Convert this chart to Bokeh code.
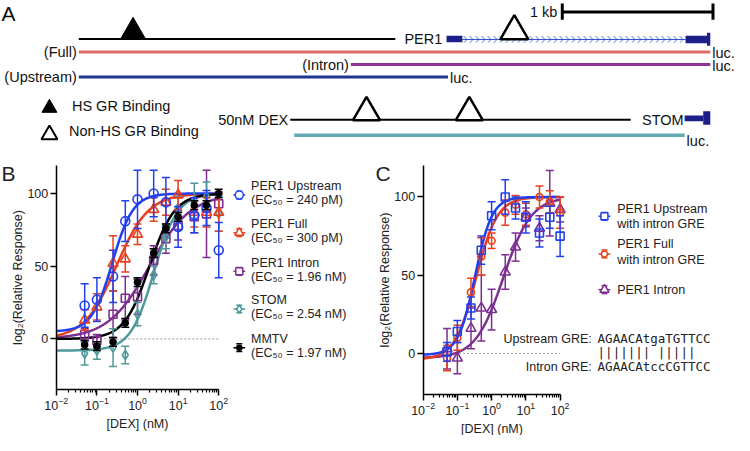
import numpy as np
from bokeh.plotting import figure
from bokeh.models import Range1d, LinearScale, FixedTicker, LogTickFormatter
from bokeh.layouts import column, row
from bokeh.embed import file_html
from bokeh.resources import INLINE
from bokeh.core.properties import value

FONT = "Liberation Sans"
MONO = "DejaVu Sans Mono"

# ---------------- Panel A: map (positions in kb from start of PER1 upstream region)
per1_upstream_kb = [0.0, 2.10]
per1_exon1_kb = [2.44, 2.545]
per1_intron_kb = [2.545, 4.026]
per1_exon2_kb = [4.026, 4.168]
per1_exon2_end_kb = [4.168, 4.19]
hs_sites_kb = [0.36]
per1_nonhs_sites_kb = [2.89]
construct_names = ["(Full)", "(Intron)", "(Upstream)"]
construct_start_kb = [0.0, 1.805, 0.0]
construct_end_kb = [4.19, 4.19, 2.45]
construct_colors = ["#e06a6a", "#8e3496", "#1f3590"]
stom_region_kb = [1.403, 3.662]
stom_nonhs_sites_kb = [1.909, 2.591]
stom_exon_kb = [4.02, 4.143]
stom_exon_end_kb = [4.143, 4.19]
stom_construct_kb = [1.429, 4.02]
scale_bar_kb = [3.208, 4.208]

# ---------------- Panel B data
dex_nM = [0.05, 0.1, 0.25, 0.5, 1, 2.5, 5, 10, 25, 50, 100]
b_names = ["PER1 Upstream", "PER1 Full", "PER1 Intron", "STOM", "MMTV"]
b_ec50_text = ["240 pM", "300 pM", "1.96 nM", "2.54 nM", "1.97 nM"]
b_ec50_nM = [0.24, 0.30, 1.96, 2.54, 1.97]
b_bottom = [5, 0, 0, -8, 0]
b_top = [100, 100, 100, 100, 100]
b_hill = [1.7, 1.1, 0.85, 1.5, 1.4]
b_upstream = [23, 27, 43, 81, 96, 100, 94, 77, 85, 90, 61]
b_upstream_err = [15, 15, 18, 14, 20, 16, 17, 14, 12, 12, 19]
b_full = [13, 22, 52, 55, 72, 89, 94, 99, 87, 87, 87]
b_full_err = [7, 9, 19, 9, 7, 8, 9, 10, 10, 10, 13]
b_intron = [3, -1, 17, 28, 29, 54, 69, 78, 84, 86, 93]
b_intron_err = [4, 4, 16, 15, 12, 10, 10, 10, 11, 30, 8]
b_stom = [-10, -8, -6, -11, 17, 44, 70, 90, 95, 98, 86]
b_stom_err = [8, 6, 13, 6, 8, 6, 8, 8, 12, 10, 12]
b_mmtv = [-4, -5, -2, 11, 39, 59, 76, 84, 92, 92, 100]
b_mmtv_err = [3, 3, 3, 3, 3, 3, 3, 3, 3, 3, 3]
b_colors = ["#2040f0", "#e8401f", "#7d2f91", "#4d9a9a", "#000000"]
b_markers = ["circle", "triangle", "square", "diamond", "circle"]

# ---------------- Panel C data
c_names = [["PER1 Upstream", "with intron GRE"], ["PER1 Full", "with intron GRE"], ["PER1 Intron"]]
c_ec50_nM = [0.33, 0.35, 2.2]
c_bottom = [-1, -4, -3]
c_top = [100, 100, 100]
c_hill = [1.75, 1.4, 1.07]
c_upstream = [1, 14, 29, 66, 88, 100, 93, 87, 77, 87, 75]
c_upstream_err = [6, 7, 7, 9, 9, 11, 7, 10, 9, 7, 13]
c_full = [-3, 10, 39, 62, 72, 90, 95, 89, 100, 97, 90]
c_full_err = [8, 8, 9, 12, 5, 8, 6, 7, 7, 7, 10]
c_intron = [3, -3, 16, 29, 28, 52, 68, 87, 80, 96, 92]
c_intron_err = [13, 10, 13, 21, 13, 11, 9, 6, 8, 21, 8]
c_colors = ["#2040f0", "#e8401f", "#7d2f91"]
c_markers = ["square", "circle", "triangle"]
gre_labels = ["Upstream GRE:", "Intron GRE:"]
gre_seqs = ["AGAACAtgaTGTTCC", "AGAACAtccCGTTCC"]

# ---------------- layout constants
W = 734
SX = W / 750.0
H_A = 154
H_BC = 281
X0, PX_PER_KB = 80.0, 154.0


def gx(kbs):
    return [X0 + PX_PER_KB * k for k in kbs]


# ================= Panel A
pa = figure(width=W, height=H_A, x_range=Range1d(0, 750), y_range=Range1d(160, 0),
            output_backend="svg", toolbar_location=None, min_border=0,
            x_axis_location=None, y_axis_location=None)
pa.grid.visible = False
pa.outline_line_color = None


def atext(x, y, t, align="left", size="14.5px", font=FONT):
    pa.text(x=[x], y=[y], text=[t], text_align=align, text_baseline="middle",
            text_font=value(font), text_font_size=size, text_color="#111")


atext(1, 14, "A", size="21px")
# PER1 locus
pa.line(gx(per1_upstream_kb), [40, 40], line_color="black", line_width=2)
atext(gx(per1_upstream_kb)[1] + 48, 40, "PER1", align="right")
pa.quad(left=gx(per1_intron_kb)[:1], right=gx(per1_intron_kb)[1:], top=[37], bottom=[44],
        fill_alpha=0, line_color=None, hatch_pattern=">", hatch_color="#8fa4e4",
        hatch_scale=6, hatch_weight=1.1)
pa.line(gx(per1_intron_kb), [40.5, 40.5], line_color="#3050c8", line_width=1)
pa.quad(left=gx(per1_exon1_kb)[:1], right=gx(per1_exon1_kb)[1:], top=[36.7], bottom=[43.5],
        fill_color="#1c1f8a", line_color=None)
pa.quad(left=gx(per1_exon2_kb)[:1], right=gx(per1_exon2_kb)[1:], top=[36.5], bottom=[44.5],
        fill_color="#1c1f8a", line_color=None)
pa.quad(left=gx(per1_exon2_end_kb)[:1], right=gx(per1_exon2_end_kb)[1:], top=[33.5], bottom=[47],
        fill_color="#1c1f8a", line_color=None)
pa.scatter(gx(hs_sites_kb), [40 - 0.2887 * 26], marker="triangle", size=25,
           fill_color="black", line_color="black")
pa.scatter(gx(per1_nonhs_sites_kb), [40 - 0.2887 * 28], marker="triangle", size=28,
           fill_color="white", line_color="black", line_width=2.5)
# scale bar
sb = gx(scale_bar_kb)
pa.line(sb, [12, 12], line_color="black", line_width=3)
pa.segment(x0=sb, y0=[3, 3], x1=sb, y1=[20, 20], line_color="black", line_width=3)
atext(sb[0] - 5, 12, "1 kb", align="right")
# constructs
rows = [53.5, 66.5, 79.5]
pa.segment(x0=gx(construct_start_kb), y0=rows, x1=gx(construct_end_kb), y1=rows,
           line_color=construct_colors, line_width=3)
for name, s, e, r in zip(construct_names, gx(construct_start_kb), gx(construct_end_kb), rows):
    atext(s - 2, r, name, align="right")
    atext(e + 2, r + 1.5, "luc.")
# legend
pa.scatter([50], [116 - 0.2887 * 15], marker="triangle", size=15, fill_color="black", line_color="black")
atext(73, 110, "HS GR Binding")
pa.scatter([50], [144 - 0.2887 * 16], marker="triangle", size=16, fill_color="white",
           line_color="black", line_width=2)
atext(70, 136, "Non-HS GR Binding")
# STOM locus
st = gx(stom_region_kb)
pa.line(st, [124, 124], line_color="black", line_width=2)
atext(st[0] - 2, 124, "50nM DEX", align="right")
pa.scatter(gx(stom_nonhs_sites_kb), [124 - 0.2887 * 27] * 2, marker="triangle", size=27,
           fill_color="white", line_color="black", line_width=2.5)
atext(gx(stom_exon_kb)[0] - 1, 124, "STOM", align="right")
pa.quad(left=gx(stom_exon_kb)[:1], right=gx(stom_exon_kb)[1:], top=[119.5], bottom=[125.5],
        fill_color="#1c1f8a", line_color=None)
pa.quad(left=gx(stom_exon_end_kb)[:1], right=gx(stom_exon_end_kb)[1:], top=[115], bottom=[129],
        fill_color="#1c1f8a", line_color=None)
sc = gx(stom_construct_kb)
pa.line(sc, [140, 140], line_color="#62aab4", line_width=3.5)
atext(sc[1] + 2, 146, "luc.")


# ================= Panels B and C
def hill(x, b, t, ec, h):
    return b + (t - b) / (1.0 + (ec / x) ** h)


def make_panel(width, ref_x0, axis_x_ref, decade_ref, v0_ref, unit_ref, axis_top_ref, axis_bot_ref):
    left_ref, right_ref = ref_x0, ref_x0 + width / SX
    top_ref, bot_ref = 160.0, 451.0
    x_lo = 10 ** (-2 + (left_ref - axis_x_ref) / decade_ref)
    x_hi = 10 ** (-2 + (right_ref - axis_x_ref) / decade_ref)
    y_lo = (v0_ref - bot_ref) / unit_ref
    y_hi = (v0_ref - top_ref) / unit_ref
    ya_lo = (v0_ref - axis_bot_ref) / unit_ref
    ya_hi = (v0_ref - axis_top_ref) / unit_ref
    p = figure(width=width, height=H_BC, x_axis_type="log",
               x_range=Range1d(x_lo, x_hi), y_range=Range1d(y_lo, y_hi),
               extra_x_ranges={"px": Range1d(left_ref, right_ref)},
               extra_y_ranges={"px": Range1d(bot_ref, top_ref)},
               extra_x_scales={"px": LinearScale()}, extra_y_scales={"px": LinearScale()},
               output_backend="svg", toolbar_location=None, min_border=0)
    p.grid.visible = False
    p.outline_line_color = None
    for ax in (p.xaxis[0], p.yaxis[0]):
        ax.axis_line_color = "black"
        ax.axis_line_width = 1.5
        ax.major_tick_line_color = "black"
        ax.major_tick_line_width = 1.5
        ax.major_tick_in = 0
        ax.major_tick_out = 6
        ax.major_label_text_font = FONT
        ax.major_label_text_font_size = "12.5px"
        ax.major_label_text_color = "#222"
        ax.axis_label_text_font = FONT
        ax.axis_label_text_font_size = "12.5px"
        ax.axis_label_text_font_style = "normal"
        ax.axis_label_text_color = "#222"
        ax.major_label_standoff = 2
    minors = [m * 10.0 ** e for e in range(-2, 2) for m in range(2, 10)]
    p.xaxis.ticker = FixedTicker(ticks=[0.01, 0.1, 1, 10, 100], minor_ticks=minors)
    p.xaxis.formatter = LogTickFormatter()
    p.xaxis.bounds = (0.01, 100)
    p.xaxis.fixed_location = ya_lo
    p.xaxis.minor_tick_in = 0
    p.xaxis.minor_tick_out = 3
    p.xaxis.minor_tick_line_color = "black"
    p.xaxis.minor_tick_line_width = 1.2
    p.xaxis.axis_label = "[DEX] (nM)"
    p.xaxis.axis_label_standoff = 3
    p.yaxis.ticker = FixedTicker(ticks=[0, 50, 100])
    p.yaxis.bounds = (ya_lo, ya_hi)
    p.yaxis.fixed_location = 0.01
    p.yaxis.minor_tick_line_color = None
    p.yaxis.axis_label = "log\u2082(Relative Response)"
    p.yaxis.axis_label_standoff = 0
    p.line([0.01, 100], [0, 0], line_color="#999999", line_width=1, line_dash="2 2")
    return p


def draw_series(p, vals, errs, color, marker, size, filled=False):
    lo = [v - e for v, e in zip(vals, errs)]
    hi = [v + e for v, e in zip(vals, errs)]
    p.segment(x0=dex_nM, y0=lo, x1=dex_nM, y1=hi, line_color=color, line_width=1.5)
    p.scatter(dex_nM + dex_nM, lo + hi, marker="dash", size=8, line_color=color, line_width=1.5)
    p.scatter(dex_nM, vals, marker=marker, size=size, line_color=color, line_width=1.6,
              fill_color=color if filled else None)


def draw_fit(p, b, t, ec, h, color):
    xs = np.logspace(-2, 2, 300)
    p.line(xs, hill(xs, b, t, ec, h), line_color=color, line_width=2.5)


def legend_glyph(p, x, y, marker, size, color, filled=False):
    p.segment(x0=[x - 6], y0=[y], x1=[x + 6], y1=[y], line_color=color, line_width=1.5,
              x_range_name="px", y_range_name="px")
    p.scatter([x, x], [y - 4, y + 4], marker="dash", size=6, line_color=color, line_width=1.5,
              x_range_name="px", y_range_name="px")
    p.scatter([x], [y], marker=marker, size=size, line_color=color, line_width=1.5,
              fill_color=color if filled else "white", x_range_name="px", y_range_name="px")


def ptext(p, xs, ys, texts, align="left", font=FONT, size="12.5px"):
    p.text(x=xs, y=ys, text=texts, text_align=align, text_baseline="middle",
           text_font=value(font), text_font_size=size, text_color="#222",
           x_range_name="px", y_range_name="px")


# ---- B
pb = make_panel(372, 0.0, 57.0, 41.5, 351.0, 1.506, 171.7, 403.3)
b_series = [b_upstream, b_full, b_intron, b_stom, b_mmtv]
b_errs = [b_upstream_err, b_full_err, b_intron_err, b_stom_err, b_mmtv_err]
b_sizes = [9, 10, 8, 9, 6]
for i in [2, 3, 1, 0, 4]:
    draw_fit(pb, b_bottom[i], b_top[i], b_ec50_nM[i], b_hill[i], b_colors[i])
for i in [2, 3, 1, 0, 4]:
    draw_series(pb, b_series[i], b_errs[i], b_colors[i], b_markers[i], b_sizes[i], filled=(i == 4))
leg_y = [193, 232, 272, 311, 351]
for i, y in enumerate(leg_y):
    legend_glyph(pb, 244, y + 9, b_markers[i], b_sizes[i] - 1, b_colors[i], filled=(i == 4))
    ptext(pb, [256, 256], [y, y + 14.5], [b_names[i], "(EC\u2085\u2080 = " + b_ec50_text[i] + ")"])
ptext(pb, [1], [180], ["B"], size="21px")

# ---- C
pc = make_panel(362, 380.0, 431.7, 35.0, 366.0, 1.62, 171.7, 408.3)
c_series = [c_upstream, c_full, c_intron]
c_errs = [c_upstream_err, c_full_err, c_intron_err]
c_sizes = [8, 7, 10]
for i in [2, 1, 0]:
    draw_fit(pc, c_bottom[i], c_top[i], c_ec50_nM[i], c_hill[i], c_colors[i])
for i in [2, 1, 0]:
    draw_series(pc, c_series[i], c_errs[i], c_colors[i], c_markers[i], c_sizes[i])
c_leg_y = [216, 253, 300]
c_glyph_y = [224, 263, 300]
for i in range(3):
    legend_glyph(pc, 617, c_glyph_y[i], c_markers[i], c_sizes[i] - 1, c_colors[i])
    ptext(pc, [630] * len(c_names[i]), [c_leg_y[i] + 16 * k for k in range(len(c_names[i]))], c_names[i])
# GRE alignment
ptext(pc, [604, 604], [351, 380], gre_labels, align="right")
ptext(pc, [610, 610], [351, 380], gre_seqs, font=MONO)
match = "".join("|" if a == b else " " for a, b in zip(gre_seqs[0], gre_seqs[1]))
ptext(pc, [610], [365.5], [match], font=MONO)
ptext(pc, [383], [180], ["C"], size="21px")

layout = column(pa, row(pb, pc))
open("out.html", "w").write(file_html(layout, INLINE))
